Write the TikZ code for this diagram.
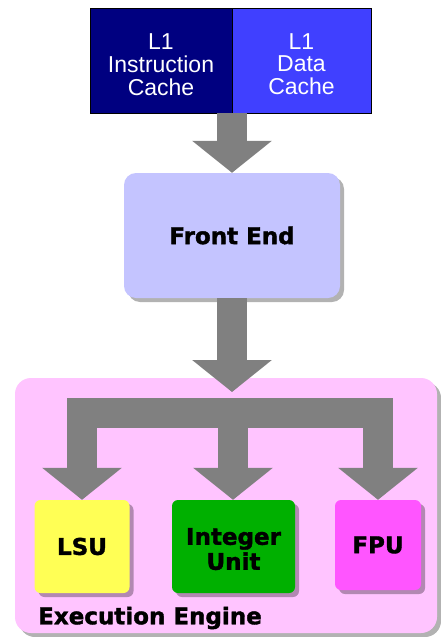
\documentclass[tikz,border=0pt]{standalone}
\usepackage{fontspec}
\setmainfont{Liberation Sans}
\newfontfamily\heavy{DejaVu Sans}[BoldFeatures={FakeBold=1.6}]
\usetikzlibrary{arrows.meta,shadows}
\definecolor{navy}{HTML}{000080}
\definecolor{dblue}{HTML}{4040FF}
\definecolor{lav}{HTML}{C4C4FF}
\definecolor{pinkbg}{HTML}{FFC4FF}
\definecolor{flow}{HTML}{808080}
\definecolor{lsuyel}{HTML}{FFFF55}
\definecolor{intgreen}{HTML}{00B000}
\definecolor{fpumag}{HTML}{FF55FF}
% stacked lines on a fixed baseline distance, given no height so they can be nudged
\newcommand\lines[2]{\raisebox{#1}[0pt][0pt]{\begin{tabular}{@{}c@{}}#2\end{tabular}}}
\tikzset{
  cache/.style={draw=black, line width=0.8pt, text=white, minimum height=105pt,
    inner sep=0pt, font=\fontsize{23}{21}\selectfont},
  softshadow/.style={drop shadow={shadow xshift=4pt, shadow yshift=-4pt, fill=black, opacity=0.3}},
  heavytext/.style={font=\heavy\bfseries\fontsize{23}{25}\selectfont},
  unitbox/.style={rounded corners=6pt, softshadow, inner sep=0pt, heavytext},
  flowarrow/.style={draw=flow, line width=30pt, line join=miter,
    -{Triangle[width=78pt,length=32pt]}},
}
\begin{document}
\begin{tikzpicture}[x=1pt,y=-1pt]
  \fill[white] (0,0) rectangle (441,637);
  \useasboundingbox (0,0) rectangle (441,637);

  % level-one caches
  \node[cache, fill=navy, minimum width=142pt] (icache) at (161,60.5)
    {\lines{-13pt}{L1\\Instruction\\Cache}};
  \node[cache, fill=dblue, minimum width=139pt] (dcache) at (301.5,60.5)
    {\lines{-13pt}{L1\\Data\\Cache}};

  % front end
  \node[unitbox, fill=lav, rounded corners=12pt, minimum width=216pt, minimum height=125pt]
    (fe) at (232,235.5) {Front End};

  % execution engine and its units
  \node[fill=pinkbg, rounded corners=16pt, softshadow, minimum width=422pt, minimum height=255pt]
    (exec) at (226,505.5) {};
  \node[anchor=west, inner sep=0pt, heavytext] (execlabel) at (38,618) {Execution Engine};
  \node[unitbox, fill=lsuyel, minimum width=95pt, minimum height=93pt] (lsu) at (82,546.5) {LSU};
  \node[unitbox, fill=intgreen, minimum width=123pt, minimum height=93pt] (int) at (233.5,546.5)
    {\lines{-12pt}{Integer\\Unit}};
  \node[unitbox, fill=fpumag, minimum width=86pt, minimum height=90pt] (fpu) at (378,545) {FPU};

  % flow arrows
  \coordinate (join) at (fe.south |- 0,392);
  \coordinate (hub) at (233,413);
  \draw[flowarrow] (fe.north |- icache.south) -- (fe.north);
  \draw[flowarrow] (fe.south) -- (join);
  \draw[flowarrow] (hub) -| (lsu.north);
  \draw[flowarrow] (hub) -| (fpu.north);
  \draw[flowarrow] (hub) -- (hub |- int.north);
\end{tikzpicture}
\end{document}
